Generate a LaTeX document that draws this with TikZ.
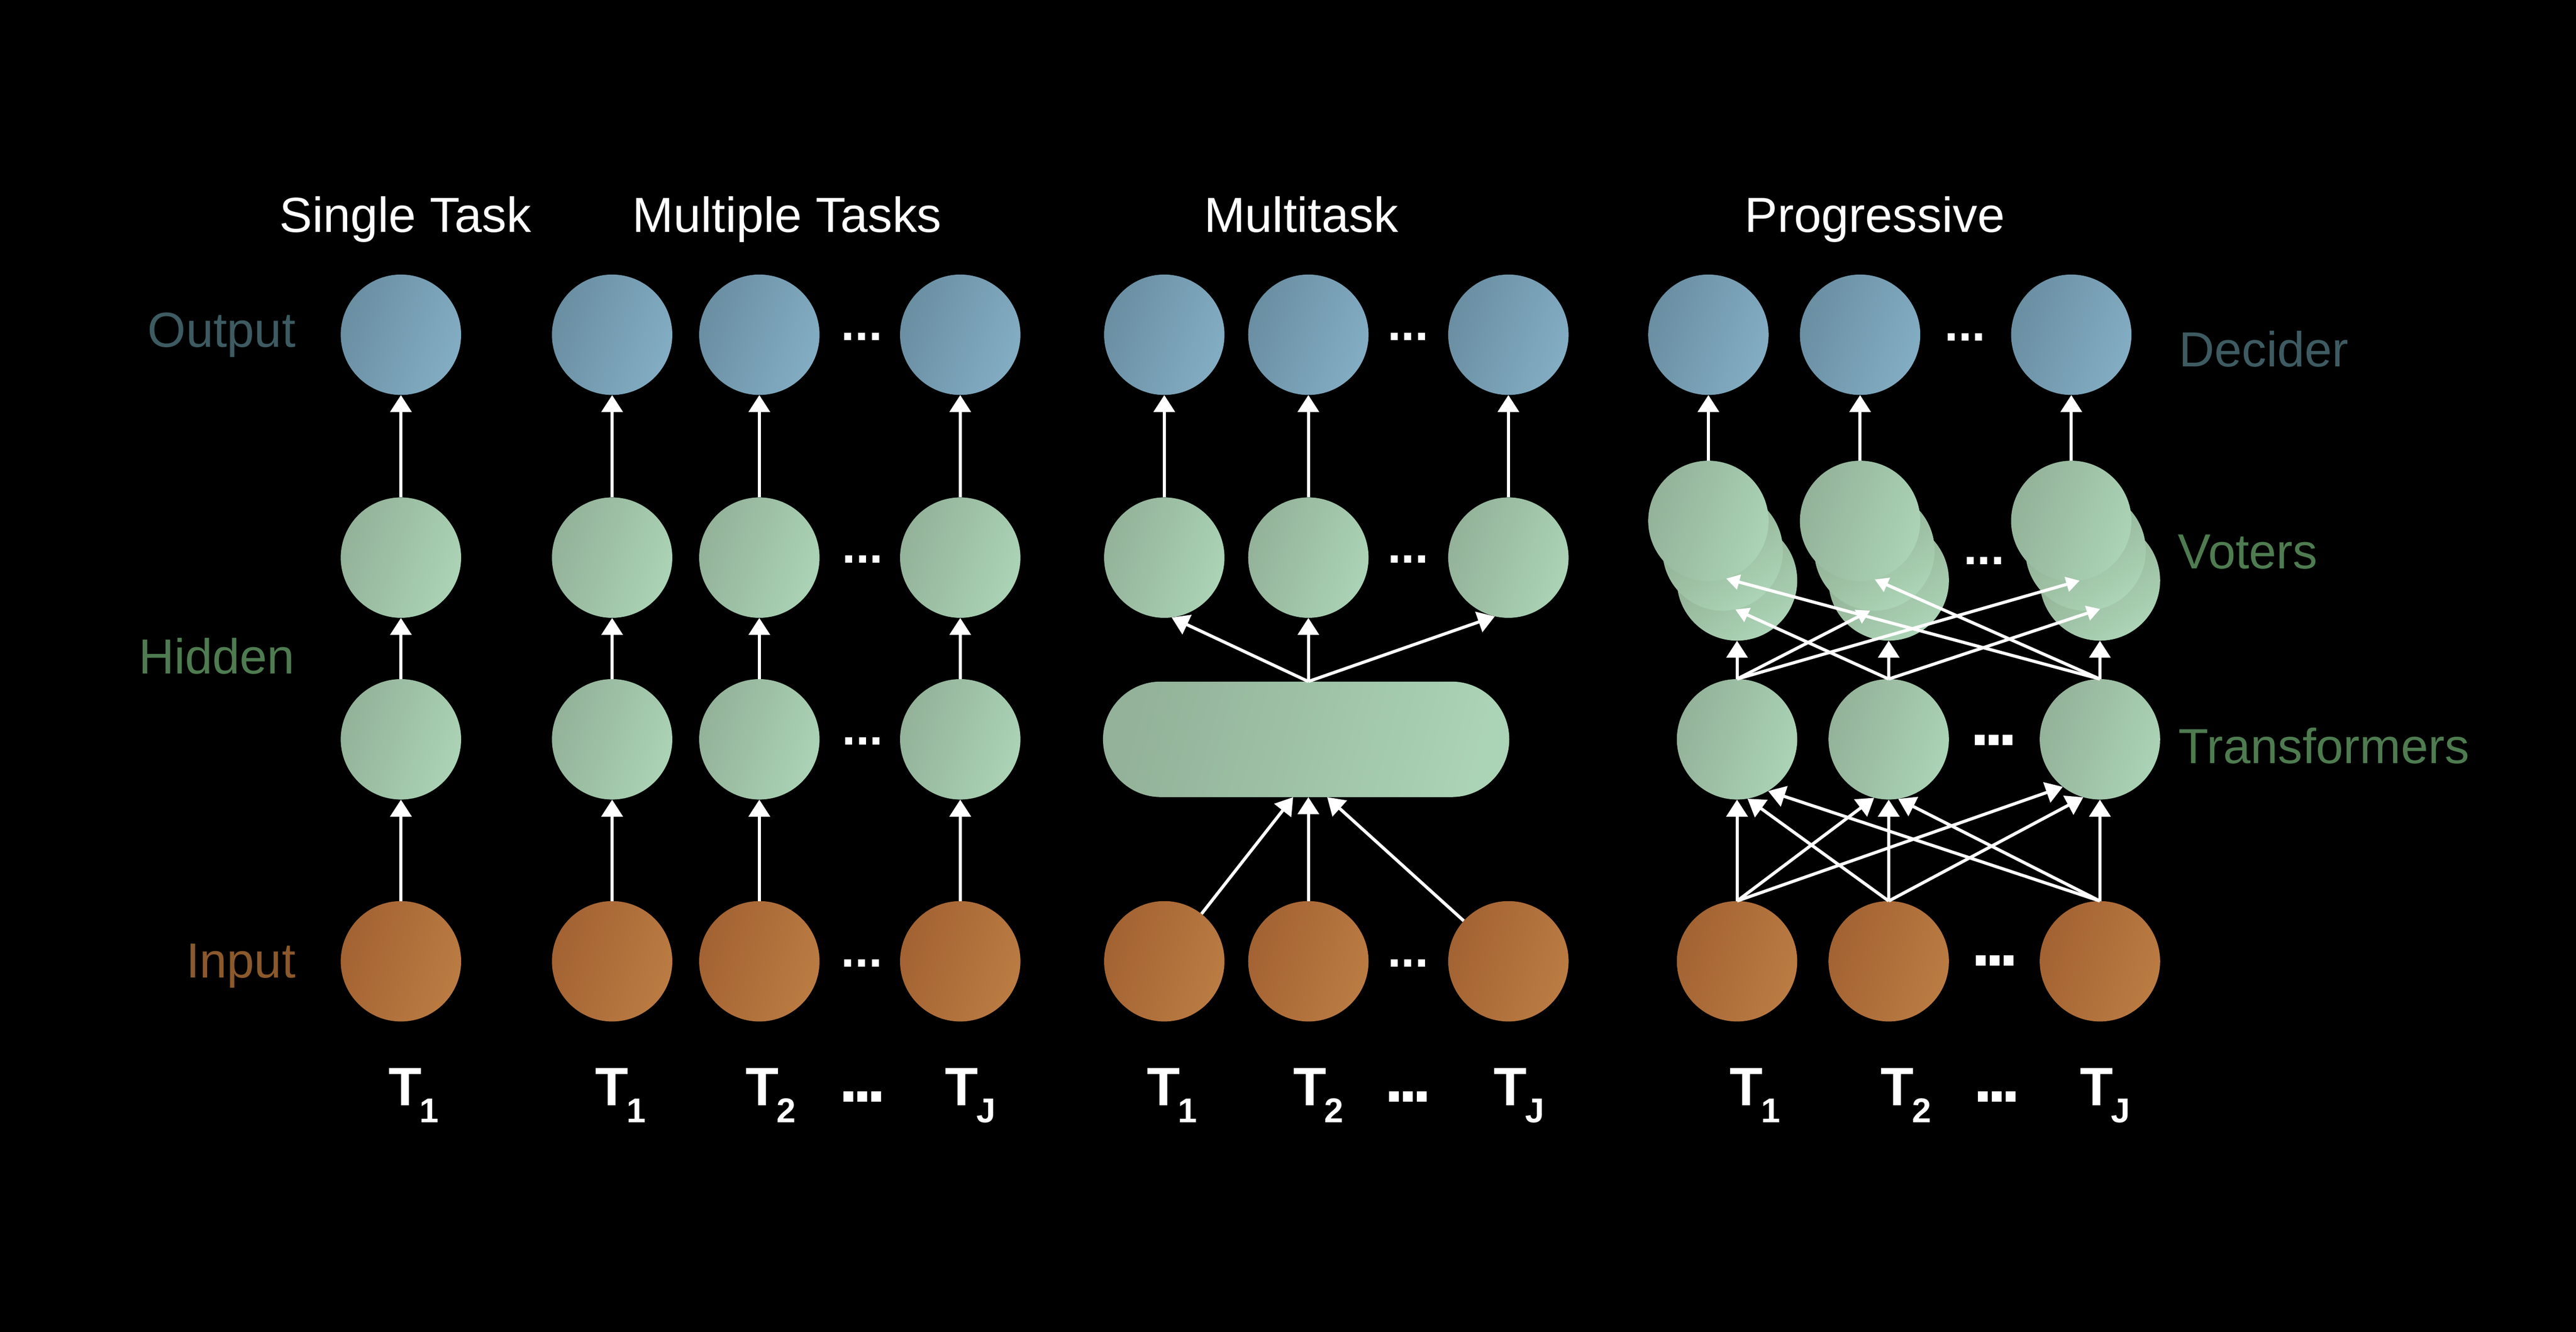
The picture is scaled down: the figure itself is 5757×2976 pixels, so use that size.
\documentclass[tikz,border=0pt]{standalone}
\usepackage{fontspec}
\setmainfont{Liberation Sans}
\usetikzlibrary{arrows.meta,calc}
\definecolor{oA}{HTML}{6A8EA2}
\definecolor{oB}{HTML}{83ADC3}
\definecolor{hA}{HTML}{93B299}
\definecolor{hB}{HTML}{ABD3B5}
\definecolor{iA}{HTML}{A36232}
\definecolor{iB}{HTML}{BB7C43}
\definecolor{dA}{HTML}{8AA68B}
\definecolor{dM}{HTML}{819C82}
\definecolor{dB}{HTML}{ACD4B6}
\definecolor{labO}{HTML}{3E5B62}
\definecolor{labH}{HTML}{4E7C50}
\definecolor{labI}{HTML}{8B592C}
\newcommand\regdots{{\fontsize{110pt}{110pt}\selectfont\bfseries ...}}
\newcommand\hvdots{{\fontsize{155pt}{155pt}\selectfont\bfseries .\kern-12pt.\kern-12pt.}}
\newcommand\tlab[1]{{\fontsize{121pt}{121pt}\selectfont\bfseries T\kern-4pt\raisebox{-38pt}{\fontsize{77pt}{77pt}\selectfont #1}}}
\newcommand\bigtxt{\fontsize{110pt}{120pt}\selectfont}
\begin{document}
\begin{tikzpicture}[x=1pt,y=-1pt,
  base/.style={circle, minimum size=269pt, inner sep=0pt},
  outc/.style={base, top color=oA, bottom color=oB, shading angle=70},
  hidc/.style={base, top color=hA, bottom color=hB, shading angle=70},
  inc/.style={base, top color=iA, bottom color=iB, shading angle=70},
  backc/.style={base, top color=dA, middle color=dM, bottom color=dB, shading angle=35},
  arr/.style={draw=white, line width=7pt, -{Triangle[length=38pt,width=47pt]}},
  sarr/.style={draw=white, line width=7pt, -{Triangle[length=30pt,width=33pt]}},
  title/.style={text=white, anchor=base, font=\bigtxt},
  lab/.style={anchor=base east, font=\bigtxt},
  rlab/.style={anchor=base west, font=\bigtxt},
  dotn/.style={text=white, anchor=base, inner sep=0pt},
  tl/.style={text=white, anchor=base west, inner sep=0pt}]
\useasboundingbox (0,0) rectangle (5757,2976);
\fill[black] (0,0) rectangle (5757,2976);

% titles
\node[title] (ttl1) at (906,519) {Single Task};
\node[title] (ttl2) at (1759,519) {Multiple Tasks};
\node[title] (ttl3) at (2908,519) {Multitask};
\node[title] (ttl4) at (4190,519) {Progressive};

% left labels
\node[lab, text=labO] (lo) at (664,776) {Output};
\node[lab, text=labH] (lh) at (662,1505) {Hidden};
\node[lab, text=labI] (li) at (664,2185) {Input};

% right labels
\node[rlab, text=labO] (rd) at (4866,819) {Decider};
\node[rlab, text=labH] (rv) at (4864,1270) {Voters};
\node[rlab, text=labH] (rt) at (4865,1706) {Transformers};

% ---------- Single task
\node[outc] (s_o) at (896,748) {};
\node[hidc] (s_a) at (896,1246) {};
\node[hidc] (s_b) at (896,1652) {};
\node[inc] (s_i) at (896,2148) {};
\draw[arr] (s_i.north) -- (s_b.south);
\draw[arr] (s_b.north) -- (s_a.south);
\draw[arr] (s_a.north) -- (s_o.south);
\node[tl] (s_T) at (868,2470) {\tlab{1}};

% ---------- Multiple tasks
\foreach \k/\x in {1/1368,2/1697,3/2146}{
  \node[outc] (m_o\k) at (\x,748) {};
  \node[hidc] (m_a\k) at (\x,1246) {};
  \node[hidc] (m_b\k) at (\x,1652) {};
  \node[inc] (m_i\k) at (\x,2148) {};
  \draw[arr] (m_i\k.north) -- (m_b\k.south);
  \draw[arr] (m_b\k.north) -- (m_a\k.south);
  \draw[arr] (m_a\k.north) -- (m_o\k.south);
}
\node[dotn] (m_d1) at (1926,760) {\regdots};
\node[dotn] (m_d2) at (1928,1258) {\regdots};
\node[dotn] (m_d3) at (1928,1664) {\regdots};
\node[dotn] (m_d4) at (1926,2160) {\regdots};
\node[tl] (m_T1) at (1330,2470) {\tlab{1}};
\node[tl] (m_T2) at (1666,2470) {\tlab{2}};
\node[tl] (m_T3) at (2112,2470) {\tlab{J}};
\node[dotn] (m_d5) at (1928,2462) {\hvdots};

% ---------- Multitask
\foreach \k/\x in {1/2602,2/2924,3/3371}{
  \node[outc] (t_o\k) at (\x,748) {};
  \node[hidc] (t_h\k) at (\x,1246) {};
  \node[inc] (t_i\k) at (\x,2148) {};
  \draw[arr] (t_h\k.north) -- (t_o\k.south);
}
\node[rectangle, rounded corners=129pt, minimum width=908pt, minimum height=258pt,
      inner sep=0pt, top color=hA, bottom color=hB, shading angle=75] (t_sh) at (2919,1652) {};
\draw[arr] (t_sh.north -| t_h2) -- (t_h1.277);
\draw[arr] (t_sh.north -| t_h2) -- (t_h2.south);
\draw[arr] (t_sh.north -| t_h2) -- (t_h3.257);
\draw[arr] (t_i1) -- ($(t_sh.south -| t_h2)+(-34,0)$);
\draw[arr] (t_i2.north) -- (t_sh.south -| t_h2);
\draw[arr] (t_i3) -- ($(t_sh.south -| t_h2)+(42,0)$);
\node[dotn] (t_d1) at (3147,760) {\regdots};
\node[dotn] (t_d2) at (3147,1258) {\regdots};
\node[dotn] (t_d4) at (3147,2160) {\regdots};
\node[tl] (t_T1) at (2563,2470) {\tlab{1}};
\node[tl] (t_T2) at (2890,2470) {\tlab{2}};
\node[tl] (t_T3) at (3338,2470) {\tlab{J}};
\node[dotn] (t_d5) at (3147,2462) {\hvdots};

% ---------- Progressive
\foreach \k/\x in {1/3818,2/4157,3/4629}{
  \node[outc] (p_o\k) at (\x,748) {};
  \node[backc] (p_vc\k) at (\x+64,1297) {};
  \node[backc] (p_vb\k) at (\x+32,1230) {};
  \node[hidc] (p_va\k) at (\x,1164) {};
  \node[hidc] (p_t\k) at (\x+64,1652) {};
  \node[inc] (p_i\k) at (\x+64,2148) {};
  \draw[arr] (p_va\k.north) -- (p_o\k.south);
  \draw[arr] (p_t\k.north) -- (p_vc\k.south);
  \draw[arr] (p_i\k.north) -- (p_t\k.south);
}
% transformers -> voters
\draw[sarr] (p_t1.north) -- (p_vb2.266);
\draw[sarr] (p_t1.north) -- (p_va3.278);
\draw[sarr] (p_t2.north) -- (p_vb1.282);
\draw[sarr] (p_t2.north) -- (p_vb3.284);
\draw[sarr] (p_t3.north) -- (p_va1.287);
\draw[sarr] (p_t3.north) -- (p_va2.284);
% inputs -> transformers
\draw[arr] (p_i1.north) -- (p_t2.256);
\draw[arr] (p_i1.north) -- (p_t3.232);
\draw[arr] (p_i2.north) -- (p_t1.280);
\draw[arr] (p_i2.north) -- (p_t3.254);
\draw[arr] (p_i3.north) -- (p_t1.301);
\draw[arr] (p_i3.north) -- (p_t2.279);
\node[dotn] (p_d1) at (4392,762) {\regdots};
\node[dotn] (p_d2) at (4434,1261) {\regdots};
\node[dotn] (p_d3) at (4456,1666) {\hvdots};
\node[dotn] (p_d4) at (4458,2158) {\hvdots};
\node[tl] (p_T1) at (3866,2470) {\tlab{1}};
\node[tl] (p_T2) at (4203,2470) {\tlab{2}};
\node[tl] (p_T3) at (4648,2470) {\tlab{J}};
\node[dotn] (p_d5) at (4463,2462) {\hvdots};
\end{tikzpicture}
\end{document}
